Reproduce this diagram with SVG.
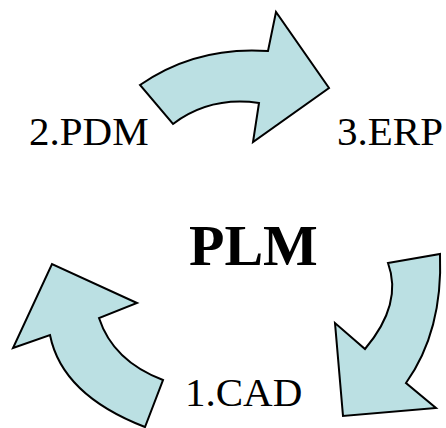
<svg xmlns="http://www.w3.org/2000/svg" width="446" height="428" viewBox="0 0 446 428">
<style>
.arrow{fill:#bbe0e3;stroke:#000;stroke-width:2;stroke-linejoin:miter}
.lbl{font-family:"Liberation Serif","Times New Roman",serif;font-size:41px;fill:#000}
.title{font-family:"Liberation Serif","Times New Roman",serif;font-size:58px;font-weight:bold;fill:#000}
</style>
<rect width="446" height="428" fill="#fff"/>
<g id="connectors">
<path id="arrow-top" class="arrow" d="M140,85 Q196,46 268,51 L276,12 L329,88 L253,142 L259,103 Q210,96 173,124 Z"/>
<path id="arrow-right" class="arrow" d="M388,263 L440,254 Q443,331 406,383 L436,408 L343,416 L335,323 L365,349 Q403,304 388,263 Z"/>
<path id="arrow-left" class="arrow" d="M145,427 Q62,395 50,335 L13,348 L52,264 L137,303 L99,318 Q113,361 163,380 Z"/>
</g>
<g id="node-pdm"><text class="lbl" x="29" y="145">2.PDM</text></g>
<g id="node-erp"><text class="lbl" x="337" y="145">3.ERP</text></g>
<g id="node-plm"><text class="title" x="189" y="265">PLM</text></g>
<g id="node-cad"><text class="lbl" x="185" y="406">1.CAD</text></g>
</svg>
